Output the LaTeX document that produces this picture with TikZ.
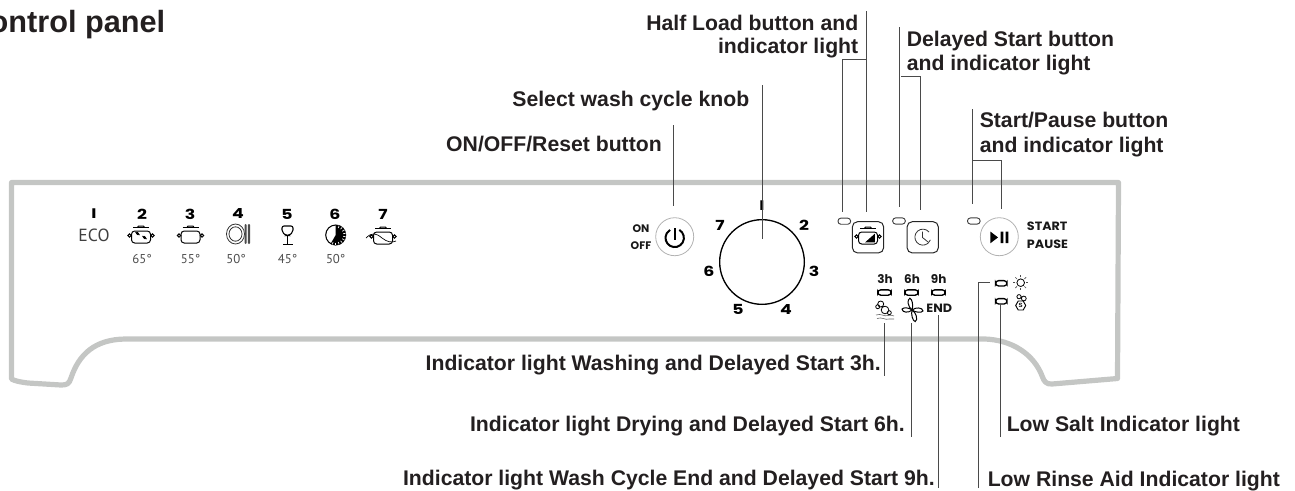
\documentclass[tikz,border=0pt]{standalone}
\usepackage{fontspec}
\usetikzlibrary{calc}
\setmainfont{Liberation Sans}
\newfontfamily\dgtfont{Poppins}
\newfontfamily\dinfont{PT Sans}
\newcommand{\widen}[1]{\scalebox{1.25}[1]{#1}}
\newcommand{\widenb}[1]{\scalebox{1.06}[1]{#1}}
\definecolor{panelgray}{HTML}{C4C6C4}
\definecolor{ink}{HTML}{231F20}
\definecolor{leader}{HTML}{4A4A4A}
\tikzset{
  lbl/.style={inner sep=0pt,text=ink,font=\fontsize{15.9}{18.2}\selectfont\bfseries},
  dgt/.style={inner sep=0pt,text=black,font=\fontsize{10.4}{11}\selectfont\dgtfont\bfseries},
  tmp/.style={inner sep=0pt,text=black!70,font=\fontsize{9.6}{11}\selectfont\dinfont},
  wordsm/.style={inner sep=0pt,text=black!90,font=\fontsize{8.2}{10}\selectfont\dgtfont\bfseries},
  wordmd/.style={inner sep=0pt,text=black!90,font=\fontsize{9}{11}\selectfont\dgtfont\bfseries},
  ledlamp/.style={rounded corners=2.2pt,draw=black!75,line width=0.7pt,fill=white,minimum width=9.5pt,minimum height=4.6pt,inner sep=0pt},
  ledthick/.style={rounded corners=2.2pt,draw=black,line width=1pt,fill=white,minimum width=10pt,minimum height=4pt,inner sep=0pt},
  ldr/.style={draw=leader,line width=0.75pt},
  iconln/.style={draw=black,line width=0.75pt},
  potbody/.pic={
    \draw[iconln,fill=white,rounded corners=2.4pt] (-9.5,-6) -- (-9.5,6) -- (9.5,6) -- (9.5,-6) -- cycle;
    \draw[iconln,fill=white] (-11.5,-1.5) circle (1.7);
    \draw[iconln,fill=white] (11.5,-1.5) circle (1.7);
    \draw[iconln,line width=0.9pt] (-8,-9.5) -- (8,-9.5);
    \draw[iconln] (-3.5,-9.5) -- (-2.5,-11) -- (2.5,-11) -- (3.5,-9.5);
  }
}
\begin{document}
\begin{tikzpicture}[x=0.75pt,y=-0.75pt]
\useasboundingbox (0,0) rectangle (1295,490);
% panel outline
\draw[draw=panelgray,line width=3.9pt,line join=round]
  (11.5,182.5) -- (1118.5,182.5) -- (1117.5,378.5) -- (1052,384)
  .. controls (1046,384.5) and (1044,381) .. (1042.5,377)
  .. controls (1034,354) and (1012,340) .. (985,339)
  -- (125,339)
  .. controls (95,339.5) and (79,354) .. (71,378)
  .. controls (69,384) and (67,385) .. (61,385)
  -- (28,383) .. controls (20,382) and (15,381) .. (11.5,379) -- cycle;
% titles and labels
\node[lbl,anchor=base east,font=\fontsize{23}{26}\selectfont\bfseries] (title) at (165.5,32) {Control panel};
\node[lbl,anchor=base east] (tknob) at (749.5,106) {Select wash cycle knob};
\node[lbl,anchor=base east] (tonoff) at (662,151) {ON/OFF/Reset button};
\node[lbl,anchor=base east] (thalf1) at (858.5,30) {Half Load button and};
\node[lbl,anchor=base east] (thalf2) at (858.5,53) {indicator light};
\node[lbl,anchor=base west] (tdel1) at (906.5,46) {Delayed Start button};
\node[lbl,anchor=base west] (tdel2) at (906.5,70) {and indicator light};
\node[lbl,anchor=base west] (tst1) at (979.5,127.5) {Start/Pause button};
\node[lbl,anchor=base west] (tst2) at (979.5,152.5) {and indicator light};
\node[lbl,anchor=base east] (t3h) at (881,370.5) {Indicator light Washing and Delayed Start 3h.};
\node[lbl,anchor=base east] (t6h) at (905,431) {Indicator light Drying and Delayed Start 6h.};
\node[lbl,anchor=base east] (t9h) at (935,485) {Indicator light Wash Cycle End and Delayed Start 9h.};
\node[lbl,anchor=base west] (tsalt) at (1006.5,431) {Low Salt Indicator light};
\node[lbl,anchor=base west] (trinse) at (987.5,486) {Low Rinse Aid Indicator light};
% program row
\node[dgt] (p1) at (94,214) {\widen{I}};
\node[dgt] (p2) at (142,214) {\widen{2}};
\node[dgt] (p3) at (190,214) {\widen{3}};
\node[dgt] (p4) at (238,214) {\widen{4}};
\node[dgt] (p5) at (287,214) {\widen{5}};
\node[dgt] (p6) at (335,214) {\widen{6}};
\node[dgt] (p7) at (383,214) {\widen{7}};
\node[inner sep=0pt,text=black!75,font=\fontsize{13.2}{15}\selectfont\dinfont] (eco) at (94,235) {ECO};
\node[tmp] (t65) at (142,259) {65°};
\node[tmp] (t55) at (190.5,259) {55°};
\node[tmp] (t50a) at (236,259) {50°};
\node[tmp] (t45) at (287.5,259) {45°};
\node[tmp] (t50b) at (335.7,259) {50°};
% icon pot 2
\pic at (141,237) {potbody};
\fill[black] (137.5,233.5) circle (1.7) (144.5,237.5) circle (1.7);
\draw[iconln] (135.5,232) -- (139.5,235) (142.5,236) -- (146.5,239);
% icon pot 3
\pic at (190.5,237) {potbody};
% icon plate
\draw[draw=black!80,line width=0.6pt] (235.5,234) ellipse (9 and 10);
\draw[draw=black!80,line width=0.6pt] (235.5,234) ellipse (6.5 and 7.2);
\fill[black!70,rounded corners=0.8pt] (244.5,224) rectangle (246.7,244);
\fill[black!70,rounded corners=0.8pt] (247.8,224) rectangle (250.2,244);
% icon glass
\draw[iconln,line width=0.8pt,rounded corners=1.5pt] (282,226) -- (293,226) -- (293,232) -- (289,235.5) -- (286,235.5) -- (282,232) -- cycle;
\draw[iconln,line width=0.9pt] (287.5,235.5) -- (287.5,244.5);
\draw[iconln,line width=1pt] (283,244.5) -- (292.5,244.5);
% icon half black dial
\draw[iconln,line width=0.8pt] (335.7,235) circle (10);
\fill[black] (335.7,235) -- (335.7,225) arc[start angle=-90,end angle=120,radius=10] -- cycle;
\foreach \a in {-70,-50,...,110}{\draw[white,line width=0.5pt] ($(335.7,235)+(\a:7.5)$) -- ($(335.7,235)+(\a:10)$);}
% icon pot 7
\pic at (383,238) {potbody};
\draw[iconln,line width=0.5pt] (366,238) .. controls (372,232) and (376,233) .. (382,238) .. controls (387,242) and (392,243) .. (396,241);
% on/off
\node[wordsm] (on) at (641,228.5) {ON};
\node[wordsm] (off) at (641,246) {OFF};
\node[circle,draw=black!30,line width=0.6pt,minimum size=28.5pt,inner sep=0pt] (pwr) at (674.7,236.7) {};
\draw[black,line width=1.5pt] (679.3,229.9) arc[start angle=-60,end angle=240,radius=9.2];
\draw[black,line width=1.5pt] (674.7,228) -- (674.7,240);
% knob
\node[circle,draw=black,line width=1pt,minimum size=63.5pt,inner sep=0pt] (knob) at (762,262) {};
\node[dgt] (k1) at (762,206) {\widen{I}};
\node[dgt] (k2) at (804,225) {\widen{2}};
\node[dgt] (k3) at (814,271) {\widen{3}};
\node[dgt] (k4) at (786,309) {\widen{4}};
\node[dgt] (k5) at (738,309) {\widen{5}};
\node[dgt] (k6) at (709,271) {\widen{6}};
\node[dgt] (k7) at (720,225) {\widen{7}};
% top LEDs and buttons
\node[ledlamp] (ledhalf) at (844.3,221.2) {};
\node[ledlamp] (leddel) at (899,221) {};
\node[ledlamp] (ledst) at (973.8,221) {};
\node[draw=black!85,line width=0.75pt,rounded corners=4pt,minimum size=23.5pt,inner sep=0pt] (bhalf) at (868,237.3) {};
\node[draw=black!85,line width=0.75pt,rounded corners=4pt,minimum size=23.5pt,inner sep=0pt] (bdel) at (922.7,237.3) {};
\begin{scope}[shift={(868,238)},scale=0.72]
\pic {potbody};
\fill[black] (9.5,-6) -- (9.5,6) -- (-4,6) -- cycle;
\end{scope}
% clock
\draw[black!80,line width=0.6pt] (929,232) arc[start angle=-40,end angle=-340,radius=8];
\draw[black!80,line width=0.6pt] (922.5,231.5) -- (922.5,237.5) -- (928,242);
\node[circle,draw=black!30,line width=0.6pt,minimum size=28.5pt,inner sep=0pt] (bst) at (999.3,236.7) {};
\fill[black] (990.3,231.5) -- (998,237.4) -- (990.3,243.3) -- cycle;
\fill[black] (1000.7,231.7) rectangle (1003.3,243.2) (1005.7,231.7) rectangle (1008.3,243.2);
\node[wordmd,anchor=west] (start) at (1026.7,226.7) {\widenb{START}};
\node[wordmd,anchor=west] (pause) at (1026.7,244) {\widenb{PAUSE}};
% delay row
\node[wordmd] (h3) at (885,279) {3h};
\node[wordmd] (h6) at (912,279) {6h};
\node[wordmd] (h9) at (938.7,279) {9h};
\node[ledthick] (l3) at (884.5,292.5) {};
\node[ledthick] (l6) at (911.5,292.5) {};
\node[ledthick] (l9) at (938.5,292.5) {};
\node[wordmd] (endw) at (939.3,308) {\widenb{END}};
% wash icon
\draw[iconln,line width=0.6pt,fill=white] (880.7,304) circle (3) (877.7,306.7) circle (2) (885,310) circle (3.8) (889.3,312.7) circle (2);
\draw[black!60,line width=0.45pt] (876,315) .. controls (881,313) and (884,317) .. (888,315.5) .. controls (890,315) and (892,315) .. (894,316);
\draw[black!60,line width=0.45pt] (877,318.5) .. controls (882,316.5) and (885,320.5) .. (889,319) .. controls (891,318.5) and (892,318.5) .. (894,319);
% fan icon
\foreach \a/\l in {-75/12,-5/11,100/12,175/10}{
  \draw[iconln,line width=0.75pt,fill=white,rotate around={\a:(912,310)}] (912,310) .. controls ({912+0.3*\l},306.5) and ({912+0.95*\l},306.5) .. ({912+\l},310) .. controls ({912+0.9*\l},312.2) and ({912+0.3*\l},312.2) .. (912,310);}
% right LEDs and icons
\node[ledthick,minimum width=8.5pt] (lrinse) at (1001.3,283.3) {};
\node[ledthick,minimum width=8.5pt] (lsalt) at (1001.3,301.3) {};
\draw[iconln,line width=0.6pt] (1020.7,282.7) circle (3.8);
\foreach \a in {0,45,...,315}{\draw[black!70,line width=0.5pt] ($(1020.7,282.7)+(\a:5.3)$) -- ($(1020.7,282.7)+(\a:7.6)$);}
\node[inner sep=0pt,font=\fontsize{4.5}{5}\selectfont\bfseries] (saltS) at (1020.7,305.5) {S};
\draw[iconln,line width=0.7pt] (1015.7,305.5) -- (1018.2,301) -- (1023.2,301) -- (1025.7,305.5) -- (1023.2,310) -- (1018.2,310) -- cycle;
\draw[iconln,line width=0.6pt] (1019,296.7) circle (2.1) (1023.8,298.5) circle (2.4);
% leader coordinates
\coordinate (conoff) at (673.7,125);
\coordinate (conoffb) at (673.7,206);
\coordinate (cknobt) at (762,85);
\coordinate (cknobb) at (762,239);
\coordinate (chalft) at (866.3,11);
\coordinate (chalfb) at (866.3,212);
\coordinate (chalfj) at (866.3,59.5);
\coordinate (chalfl) at (842.7,59.5);
\coordinate (chalflb) at (842.7,212);
\coordinate (cdelt) at (899.3,27);
\coordinate (cdelb) at (899.3,207);
\coordinate (cdelrt) at (920.7,76.5);
\coordinate (cdelrl) at (901,76.5);
\coordinate (cdelrb) at (920.7,210);
\coordinate (cstt) at (972.3,109);
\coordinate (cstb) at (972.3,204);
\coordinate (cstj) at (972.3,160);
\coordinate (cstr) at (1001.3,160);
\coordinate (cstrb) at (1001.3,209);
\coordinate (c3t) at (884.3,323);
\coordinate (c3b) at (884.3,376);
\coordinate (c6t) at (911.7,323);
\coordinate (c6b) at (911.7,437);
\coordinate (c9t) at (938,315);
\coordinate (c9b) at (938,488);
\coordinate (crb) at (978.3,488);
\coordinate (crt) at (978.3,282);
\coordinate (cre) at (990,282);
\coordinate (csb) at (1000.3,437);
\coordinate (cst) at (1000.3,304);
% leaders
\draw[ldr] (conoff) -- (conoffb);
\draw[ldr] (cknobt) -- (cknobb);
\draw[ldr] (chalft) -- (chalfb);
\draw[ldr] (chalfj) -- (chalfl) -- (chalflb);
\draw[ldr] (cdelt) -- (cdelb);
\draw[ldr] (cdelrt) -- (cdelrl);
\draw[ldr] (cdelrt) -- (cdelrb);
\draw[ldr] (cstt) -- (cstb);
\draw[ldr] (cstj) -- (cstr) -- (cstrb);
\draw[ldr] (c3t) -- (c3b);
\draw[ldr] (c6t) -- (c6b);
\draw[ldr] (c9t) -- (c9b);
\draw[ldr] (crb) -- (crt) -- (cre);
\draw[ldr] (csb) -- (cst);
\end{tikzpicture}
\end{document}
